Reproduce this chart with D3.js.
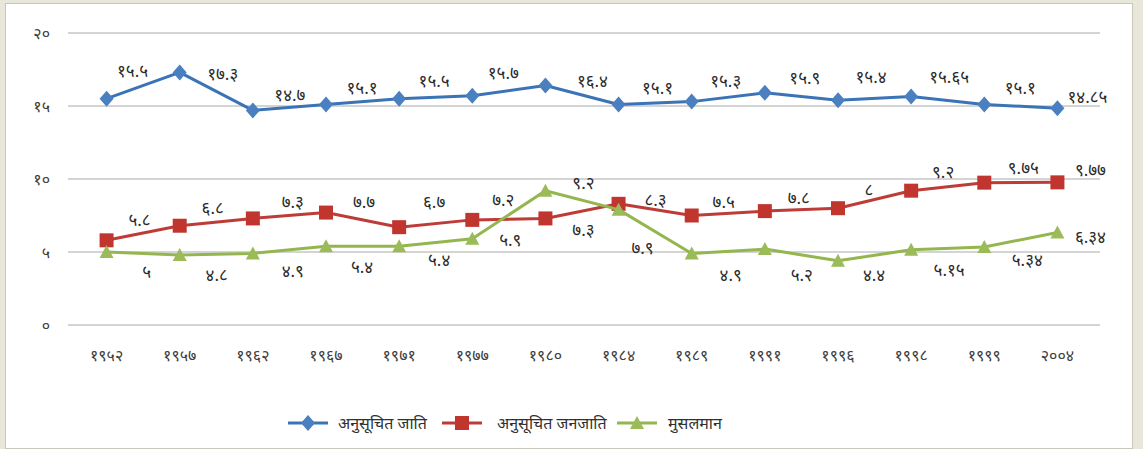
<!DOCTYPE html>
<html>
<head>
  <meta charset="utf-8">
  <title>Representation chart</title>
  <script src="https://cdnjs.cloudflare.com/ajax/libs/d3/7.8.5/d3.min.js"></script>
  <style>
    body {
      margin: 0;
      background-color: #e9e7da;
      font-family: "Noto Sans", "Lohit Devanagari", "Noto Sans Devanagari", sans-serif;
    }
    #chart {
      position: absolute;
      left: 5px;
      top: 3px;
      width: 1128px;
      height: 446px;
      background: #ffffff;
      border: 1px solid #c9c7b8;
      box-sizing: border-box;
    }
    .grid line { stroke: #d4d4d4; stroke-width: 2px; }
    .tick-label { font-size: 16px; fill: #404040; }
    .data-label { font-size: 17px; fill: #2a2a2a; }
    .legend-text { font-size: 16px; fill: #303030; }
  </style>
</head>
<body>
  <div id="chart"></div>

  <script>
    // Data (election years and percentages)
    const years = ["१९५२", "१९५७", "१९६२", "१९६७", "१९७१", "१९७७", "१९८०", "१९८४", "१९८९", "१९९१", "१९९६", "१९९८", "१९९९", "२००४"];
    const scValues = [15.5, 17.3, 14.7, 15.1, 15.5, 15.7, 16.4, 15.1, 15.3, 15.9, 15.4, 15.65, 15.1, 14.85];
    const stValues = [5.8, 6.8, 7.3, 7.7, 6.7, 7.2, 7.3, 8.3, 7.5, 7.8, 8, 9.2, 9.75, 9.77];
    const muslimValues = [5, 4.8, 4.9, 5.4, 5.4, 5.9, 9.2, 7.9, 4.9, 5.2, 4.4, 5.15, 5.34, 6.34];
    const yTicks = [0, 5, 10, 15, 20];
    const seriesNames = ["अनुसूचित जाति", "अनुसूचित जनजाति", "मुसलमान"];

    const width = 1143;
    const height = 449;

    // Devanagari digits
    const devDigits = "०१२३४५६७८९";
    function toDev(v) {
      return String(v).replace(/[0-9]/g, c => devDigits[+c]);
    }

    const svg = d3.select("body")
      .append("svg")
      .attr("width", width)
      .attr("height", height)
      .style("position", "absolute")
      .style("left", "0px")
      .style("top", "0px");

    const x = d3.scalePoint()
      .domain(years)
      .range([70, 1094])
      .padding(0.5);

    const y = d3.scaleLinear()
      .domain([0, 20])
      .range([325, 33]);

    // Gridlines
    const grid = svg.append("g").attr("class", "grid");
    grid.selectAll("line")
      .data(yTicks)
      .enter().append("line")
      .attr("x1", 68)
      .attr("x2", 1100)
      .attr("y1", d => y(d))
      .attr("y2", d => y(d));

    // Y axis labels
    svg.append("g")
      .selectAll("text")
      .data(yTicks)
      .enter().append("text")
      .attr("class", "tick-label")
      .attr("x", 50)
      .attr("y", d => y(d))
      .attr("dy", "0.35em")
      .attr("text-anchor", "end")
      .text(d => toDev(d));

    // X axis labels
    svg.append("g")
      .selectAll("text")
      .data(years)
      .enter().append("text")
      .attr("class", "tick-label")
      .attr("x", d => x(d))
      .attr("y", 355)
      .attr("dy", "0.35em")
      .attr("text-anchor", "middle")
      .text(d => d);

    // label offsets
    const series = [
      { name: seriesNames[0], values: scValues, line: "#3b74b6", fill: "#4a7fc0", marker: "diamond",
        dx: [26, 43, 37, 36, 35, 31, 47, 39, 34, 40, 33, 38, 36, 30],
        dy: [-28, 2, -15, -16, -18, -23, -5, -16, -21, -15, -23, -19, -16, -11] },
      { name: seriesNames[1], values: stValues, line: "#bd3c37", fill: "#c0362f", marker: "square",
        dx: [33, 33, 40, 38, 35, 31, 38, 37, 32, 34, 31, 32, 39, 33],
        dy: [-20, -18, -16, -11, -25, -20, 12, -4, -13, -13, -18, -19, -15, -12] },
      { name: seriesNames[2], values: muslimValues, line: "#94b64f", fill: "#9bbb59", marker: "triangle",
        dx: [40, 37, 40, 36, 40, 38, 38, 24, 39, 37, 36, 38, 43, 33],
        dy: [20, 20, 18, 21, 14, 1, -8, 38, 22, 26, 14, 20, 13, 5] }
    ];

    const line = d3.line()
      .x((d, i) => x(years[i]))
      .y(d => y(d));

    function markerPath(type) {
      if (type === "diamond") return "M0,-8L7,0L0,8L-7,0Z";
      if (type === "square") return "M-7,-7H7V7H-7Z";
      return "M0,-7L7,6H-7Z";
    }

    series.forEach(s => {
      const g = svg.append("g");
      g.append("path")
        .datum(s.values)
        .attr("fill", "none")
        .attr("stroke", s.line)
        .attr("stroke-width", 3)
        .attr("stroke-linejoin", "round")
        .attr("d", line);

      g.selectAll("path.marker")
        .data(s.values)
        .enter().append("path")
        .attr("class", "marker")
        .attr("d", markerPath(s.marker))
        .attr("transform", (d, i) => `translate(${x(years[i])},${y(d)})`)
        .attr("fill", s.fill);

      g.selectAll("text")
        .data(s.values)
        .enter().append("text")
        .attr("class", "data-label")
        .attr("x", (d, i) => x(years[i]) + s.dx[i])
        .attr("y", (d, i) => y(d) + s.dy[i])
        .attr("dy", "0.35em")
        .attr("text-anchor", "middle")
        .text(d => toDev(d));
    });

    // Legend
    const legendItems = [
      { s: series[0], x: 288, tx: 338 },
      { s: series[1], x: 442, tx: 497 },
      { s: series[2], x: 617, tx: 668 }
    ];
    const legend = svg.append("g").attr("transform", "translate(0,423)");
    legendItems.forEach(item => {
      legend.append("line")
        .attr("x1", item.x)
        .attr("x2", item.x + 40)
        .attr("y1", 0)
        .attr("y2", 0)
        .attr("stroke", item.s.line)
        .attr("stroke-width", 3);
      legend.append("path")
        .attr("d", markerPath(item.s.marker))
        .attr("transform", `translate(${item.x + 20},0)`)
        .attr("fill", item.s.fill);
      legend.append("text")
        .attr("class", "legend-text")
        .attr("x", item.tx)
        .attr("y", 0)
        .attr("dy", "0.35em")
        .text(item.s.name);
    });
  </script>
</body>
</html>
